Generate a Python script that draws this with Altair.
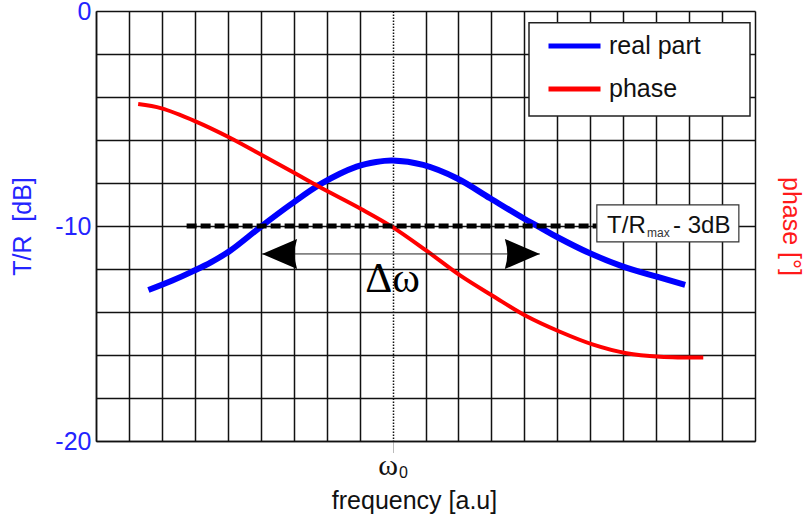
import altair as alt
import pandas as pd

# Real part of the response (dB) against frequency (arbitrary units)
real_u = [1.59, 2.3, 2.95, 3.5, 4.07, 4.98, 5.89, 6.85, 7.91, 8.5, 9.0, 9.93, 10.95,
          11.96, 12.97, 13.47, 13.98, 14.99, 16.0, 17.02, 17.88]
real_db = [-12.98, -12.55, -12.1, -11.68, -11.15, -10.06, -9.02, -8.02, -7.24, -7.02,
           -6.95, -7.16, -7.78, -8.71, -9.64, -10.06, -10.50, -11.27, -11.89, -12.36, -12.74]

# Phase, drawn in the same vertical units as the dB axis (unlabelled right axis)
phase_u = [1.28, 1.99, 3.0, 4.02, 5.03, 6.04, 6.8, 8.06, 9.0, 10.03, 11.05,
           12.06, 13.07, 14.08, 15.09, 16.1, 17.12, 18.43]
phase_val = [-4.33, -4.53, -5.12, -5.86, -6.70, -7.55, -8.20, -9.22, -10.05,
             -11.15, -12.30, -13.27, -14.20, -14.92, -15.52, -15.92, -16.08, -16.12]

series = ["real part", "phase"]
series_colors = ["#0000ff", "#ff0000"]

omega0 = 9                 # resonance frequency
level_db = -10             # T/R_max - 3 dB level
level_u = [2.75, 15.2]     # extent of the dashed level line
label_box_u = [15.2, 19.51]
label_box_db = [-9.02, -10.74]
label_u = 15.51
label_db = -10.33
band_u = [5.04, 13.47]     # -3 dB crossings (bandwidth arrows)
band_db = -11.3
delta_u = 9.0
delta_db = -13.07

XS = alt.Scale(domain=[0, 20], nice=False, zero=False)
YS = alt.Scale(domain=[-20, 0], nice=False, zero=False)

BLUE_TXT = "#2424ff"
RED_TXT = "#ff1a1a"
INK = "#111111"

is_w0 = f"datum.value === {omega0}"

x_axis = alt.Axis(
    values=list(range(0, 21)),
    labelExpr=f"{is_w0} ? 'ω' : ''",
    labelFont="Liberation Serif", labelFontSize=30, labelColor=INK,
    labelPadding=13, labelBaseline="middle", labelAngle=0, labelOverlap=False,
    labelOffset=-5,
    tickSize=11, tickColor="#777777", tickDash=[1, 1], tickWidth=1,
    tickOpacity={"condition": {"test": is_w0, "value": 1}, "value": 0},
    domainColor=INK, domainWidth=1.5,
    grid=True, gridColor=INK,
    gridWidth=1.5, gridOpacity=1,
    gridDash={"condition": {"test": is_w0, "value": [1.5, 1.5]}, "value": []},
    title="frequency [a.u]", titleFont="Liberation Sans", titleFontSize=25,
    titleFontWeight="normal", titleColor=INK, titleX=318, titleY=59,
    titleBaseline="middle", titleAlign="center",
)

y_axis = alt.Axis(
    values=list(range(-20, 1, 2)),
    labelExpr="datum.value % 10 === 0 ? '' + datum.value : ''",
    labelFont="Liberation Sans", labelFontSize=25, labelColor=BLUE_TXT,
    labelPadding=5, labelOverlap=False, ticks=False,
    domainColor=INK, domainWidth=1.5,
    grid=True, gridColor=INK, gridWidth=1.5, gridOpacity=1,
    title="T/R\u00a0 [dB]", titleFont="Liberation Sans", titleFontSize=25,
    titleFontWeight="normal", titleColor=BLUE_TXT, titleX=-74, titleY=215,
    titleBaseline="middle", titleAlign="center", titleAngle=270,
)

phase_axis = alt.Axis(
    orient="right", labels=False, ticks=False, domain=False, grid=False,
    title="phase [°]", titleFont="Liberation Sans", titleFontSize=25,
    titleFontWeight="normal", titleColor=RED_TXT, titleX=35, titleY=215,
    titleBaseline="middle", titleAlign="center", titleAngle=90,
)

color = alt.Color(
    "series:N",
    scale=alt.Scale(domain=series, range=series_colors),
    legend=alt.Legend(
        orient="none", legendX=450, legendY=22.5, title=None,
        symbolType="stroke", symbolSize=2704, symbolStrokeWidth=5,
        labelFont="Liberation Sans", labelFontSize=25, labelColor=INK,
        labelOffset=6, clipHeight=25, rowPadding=17, padding=0,
    ),
)

real_df = pd.DataFrame({"u": real_u, "v": real_db, "series": series[0]})
phase_df = pd.DataFrame({"u": phase_u, "v": phase_val, "series": series[1]})

real_line = alt.Chart(real_df).mark_line(strokeWidth=6, interpolate="catmull-rom").encode(
    x=alt.X("u:Q", scale=XS, axis=x_axis),
    y=alt.Y("v:Q", scale=YS, axis=y_axis),
    color=color,
)

phase_line = alt.Chart(phase_df).mark_line(strokeWidth=4, interpolate="catmull-rom").encode(
    x=alt.X("u:Q", scale=XS, axis=None),
    y=alt.Y("v:Q", scale=YS, axis=phase_axis),
    color=color,
)


def xq(field):
    return alt.X(field, type="quantitative", scale=XS, axis=None)


def yq(field):
    return alt.Y(field, type="quantitative", scale=YS, axis=None)


# -3 dB level line
level_df = pd.DataFrame({"u0": [level_u[0]], "u1": [level_u[1]], "v": [level_db]})
level_line = alt.Chart(level_df).mark_rule(
    color="black", strokeWidth=5, strokeDash=[10, 4], strokeCap="butt"
).encode(x=xq("u0"), x2="u1", y=yq("v"))

# label box "T/R_max - 3dB"
box_df = pd.DataFrame({"u0": [label_box_u[0]], "u1": [label_box_u[1]],
                       "v0": [label_box_db[0]], "v1": [label_box_db[1]]})
label_box = alt.Chart(box_df).mark_rect(
    fill="white", stroke="#333333", strokeWidth=1.2
).encode(x=xq("u0"), x2="u1", y=yq("v0"), y2="v1")

lab_df = pd.DataFrame({"u": [label_u], "v": [label_db]})
lab_base = alt.Chart(lab_df).encode(x=xq("u"), y=yq("v"))
lab_tr = lab_base.mark_text(text="T/R", align="left", baseline="alphabetic",
                            font="Liberation Sans", fontSize=24, color=INK)
lab_max = lab_base.mark_text(text="max", align="left", baseline="alphabetic",
                             font="Liberation Sans", fontSize=12, color="#333333",
                             dx=40, dy=4)
lab_db = lab_base.mark_text(text="- 3dB", align="left", baseline="alphabetic",
                            font="Liberation Sans", fontSize=24, color=INK, dx=66)

# bandwidth arrows
band_df = pd.DataFrame({"u0": [band_u[0]], "u1": [band_u[1]], "v": [band_db]})
band_shaft = alt.Chart(band_df).mark_rule(color="#222222", strokeWidth=1).encode(
    x=xq("u0"), x2="u1", y=yq("v"))
head_left = alt.Chart(band_df).mark_point(
    shape="M 0 0 L 2 -0.86 Q 1.72 0 2 0.86 Z", size=1225,
    filled=True, color="black", opacity=1
).encode(x=xq("u0"), y=yq("v"))
head_right = alt.Chart(band_df).mark_point(
    shape="M 0 0 L -2 -0.86 Q -1.72 0 -2 0.86 Z", size=1225,
    filled=True, color="black", opacity=1
).encode(x=xq("u1"), y=yq("v"))

delta_df = pd.DataFrame({"u": [delta_u], "v": [delta_db]})
delta_text = alt.Chart(delta_df).mark_text(
    text="Δω", align="center", baseline="alphabetic",
    font="Liberation Serif", fontSize=42, color="black"
).encode(x=xq("u"), y=yq("v"))

# subscript of the omega_0 tick label
w0_df = pd.DataFrame({"u": [omega0], "v": [-20]})
w0_sub = alt.Chart(w0_df).mark_text(
    text="0", align="center", baseline="middle",
    font="Liberation Sans", fontSize=16, color=INK, dx=11, dy=32
).encode(x=xq("u"), y=yq("v"))

# white legend frame
legend_frame = alt.Chart(w0_df).mark_rect(
    fill="white", stroke="#222222", strokeWidth=1.5
).encode(x=alt.value(433), x2=alt.value(654), y=alt.value(11.7), y2=alt.value(105))

chart = alt.layer(
    real_line, phase_line, level_line, label_box, lab_tr, lab_max, lab_db,
    band_shaft, head_left, head_right, delta_text, w0_sub, legend_frame,
).resolve_axis(x="independent", y="independent").properties(
    width=659, height=430,
    autosize=alt.AutoSizeParams(type="none"),
    padding={"left": 96, "top": 11, "right": 48, "bottom": 83},
    background="white",
).configure_view(stroke=INK, strokeWidth=1.5).configure(font="Liberation Sans")

chart.save("out.html", embed_options={"renderer": "svg", "actions": False})
